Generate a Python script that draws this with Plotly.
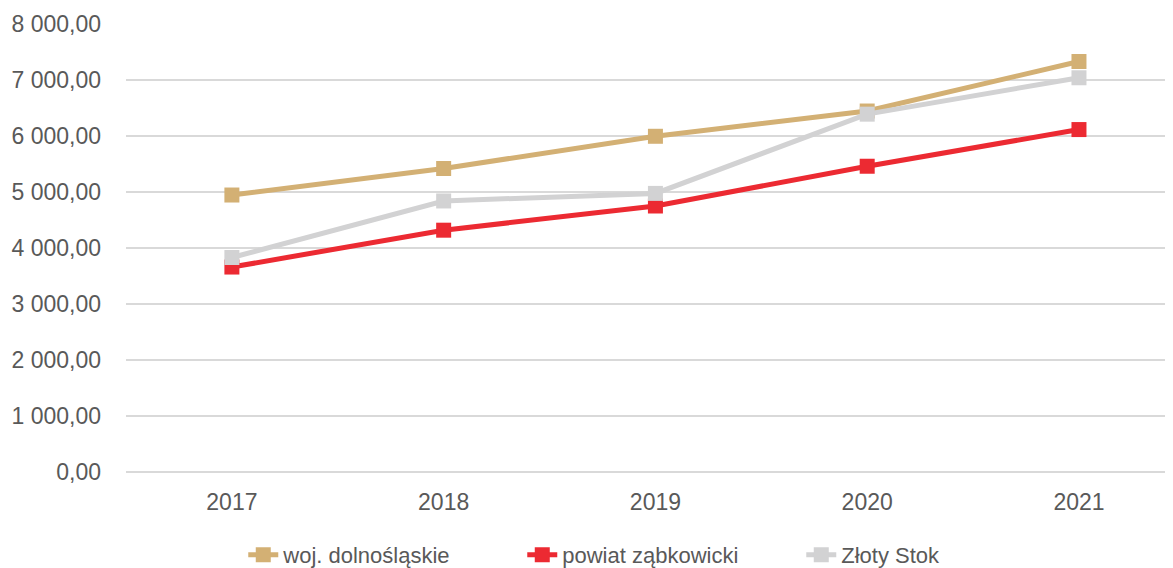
import plotly.graph_objects as go

years = ["2017", "2018", "2019", "2020", "2021"]
woj = [4946, 5420, 5995, 6446, 7330]
powiat = [3660, 4318, 4750, 5460, 6115]
zloty = [3830, 4840, 4975, 6390, 7040]

series_names = ["woj. dolnośląskie", "powiat ząbkowicki", "Złoty Stok"]
series_colors = ["#D3B074", "#EC2A32", "#D2D2D3"]
y_ticks = [0, 1000, 2000, 3000, 4000, 5000, 6000, 7000, 8000]

FONT = "Liberation Sans, Arial, sans-serif"
fig = go.Figure()
for name, vals, col in zip(series_names, [woj, powiat, zloty], series_colors):
    fig.add_trace(go.Scatter(
        x=years, y=vals, name=name, mode="lines+markers",
        line=dict(color=col, width=5),
        marker=dict(symbol="square", size=15, color=col),
    ))

# page body has an 8px default margin, so the figure is sized/placed to compensate
fig.update_layout(
    width=1165, height=560,
    margin=dict(l=118, r=0, t=16, b=96, autoexpand=False),
    paper_bgcolor="white", plot_bgcolor="white",
    separators=", ",
    font=dict(family=FONT, size=23, color="#595959"),
    showlegend=True,
    legend=dict(orientation="h", x=0.112, xanchor="left", y=-0.185, yanchor="middle",
                font=dict(family=FONT, size=22, color="#595959"),
                entrywidth=234, tracegroupgap=0, bgcolor="rgba(0,0,0,0)"),
    xaxis=dict(type="category", range=[-0.5, 4.444], showgrid=False, showline=False,
               zeroline=False, ticks="", ticklabelstandoff=14, automargin=False,
               tickfont=dict(family=FONT, size=23, color="#595959")),
    yaxis=dict(range=[0, 8000], tickvals=y_ticks, tickformat=",.2f",
               showgrid=True, gridcolor="#D9D9D9", gridwidth=1.5,
               zeroline=True, zerolinecolor="#D9D9D9", zerolinewidth=1.5,
               showline=False, ticks="", ticklabelstandoff=24, automargin=False,
               tickfont=dict(family=FONT, size=23, color="#595959")),
)

fig.write_html("out.html")
